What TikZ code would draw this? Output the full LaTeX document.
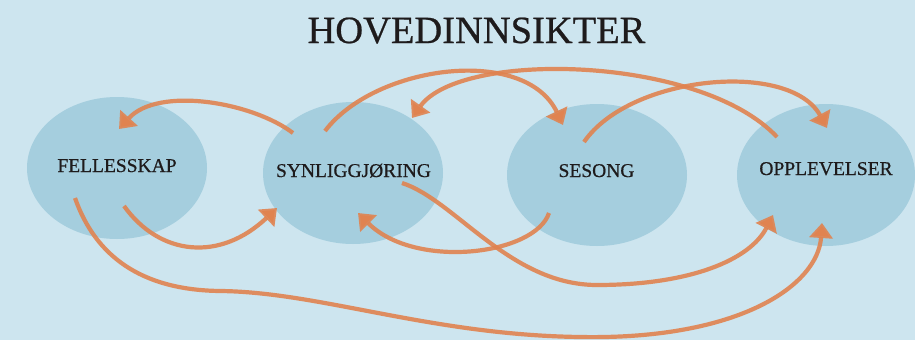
\documentclass[tikz,border=0pt]{standalone}
\usepackage{fontspec}
\setmainfont{Liberation Serif}[FakeBold=0.6]
\usetikzlibrary{shapes.geometric,arrows.meta,calc}
\definecolor{bgc}{HTML}{CDE5EF}
\definecolor{ellc}{HTML}{A5CEDE}
\definecolor{arrc}{HTML}{E08350}
\definecolor{txtc}{HTML}{1E1B1C}
\tikzset{
  blob/.style={ellipse, fill=ellc, minimum width=180pt, minimum height=142pt, inner sep=0pt},
  lbl/.style={anchor=base, inner sep=0pt, text=txtc, font=\fontsize{19.5}{22}\selectfont},
  conn/.style={draw=arrc, line width=4.2pt, draw opacity=0.9,
    -{Triangle[length=15pt,width=23pt,fill=arrc]}}
}
\begin{document}
\begin{tikzpicture}[x=1pt,y=-1pt]
\fill[bgc] (0,0) rectangle (915,340);
\useasboundingbox (0,0) rectangle (915,340);
\node[anchor=base, inner sep=0pt, text=txtc, font=\fontsize{38.5}{40}\selectfont] (title) at (476.5,43) {HOVEDINNSIKTER};
\node[blob] (fell) at (117,168) {};
\node[blob] (syn) at (353,173) {};
\node[blob] (ses) at (597,175) {};
\node[blob, minimum width=178pt] (opp) at (826,175) {};
\node[lbl] (fellT) at (117,172) {FELLESSKAP};
\node[lbl] (synT) at (353.5,177) {SYNLIGGJØRING};
\node[lbl] (sesT) at (596.5,177) {SESONG};
\node[lbl] (oppT) at (826,175) {OPPLEVELSER};
% 1 syn -> fell
\draw[conn] ($(syn)+(-60,-40)$) .. controls (252,102) and (158,86) .. ($(fell)+(2,-39)$);
% 2 fell -> syn
\draw[conn] ($(fell)+(7,38)$) .. controls (160,256) and (220,262) .. ($(syn)+(-76,35)$);
% 3 fell -> opp (long bottom)
\draw[conn] ($(fell)+(-42,30)$) .. controls (95,255) and (140,290) .. (220,291)
  .. controls (320,292) and (430,335) .. (580,337)
  .. controls (740,340) and (818,285) .. ($(opp)+(-4,48)$);
% 4 syn -> ses
\draw[conn] ($(syn)+(-28,-42)$) .. controls (375,65) and (525,45) .. ($(ses)+(-34,-50)$);
% 5 opp -> syn
\draw[conn] ($(opp)+(-49,-38)$) .. controls (700,55) and (460,50) .. ($(syn)+(59,-55)$);
% 6 ses -> opp
\draw[conn] ($(ses)+(-13,-33)$) .. controls (630,75) and (790,60) .. ($(opp)+(1,-47)$);
% 7 ses -> syn
\draw[conn] ($(ses)+(-48,38)$) .. controls (535,255) and (415,270) .. ($(syn)+(5,40)$);
% 8 syn -> opp
\draw[conn] ($(syn)+(49,10)$) .. controls (455,200) and (510,285) .. (597,285)
  .. controls (690,285) and (750,260) .. ($(opp)+(-53,40)$);
\end{tikzpicture}
\end{document}
